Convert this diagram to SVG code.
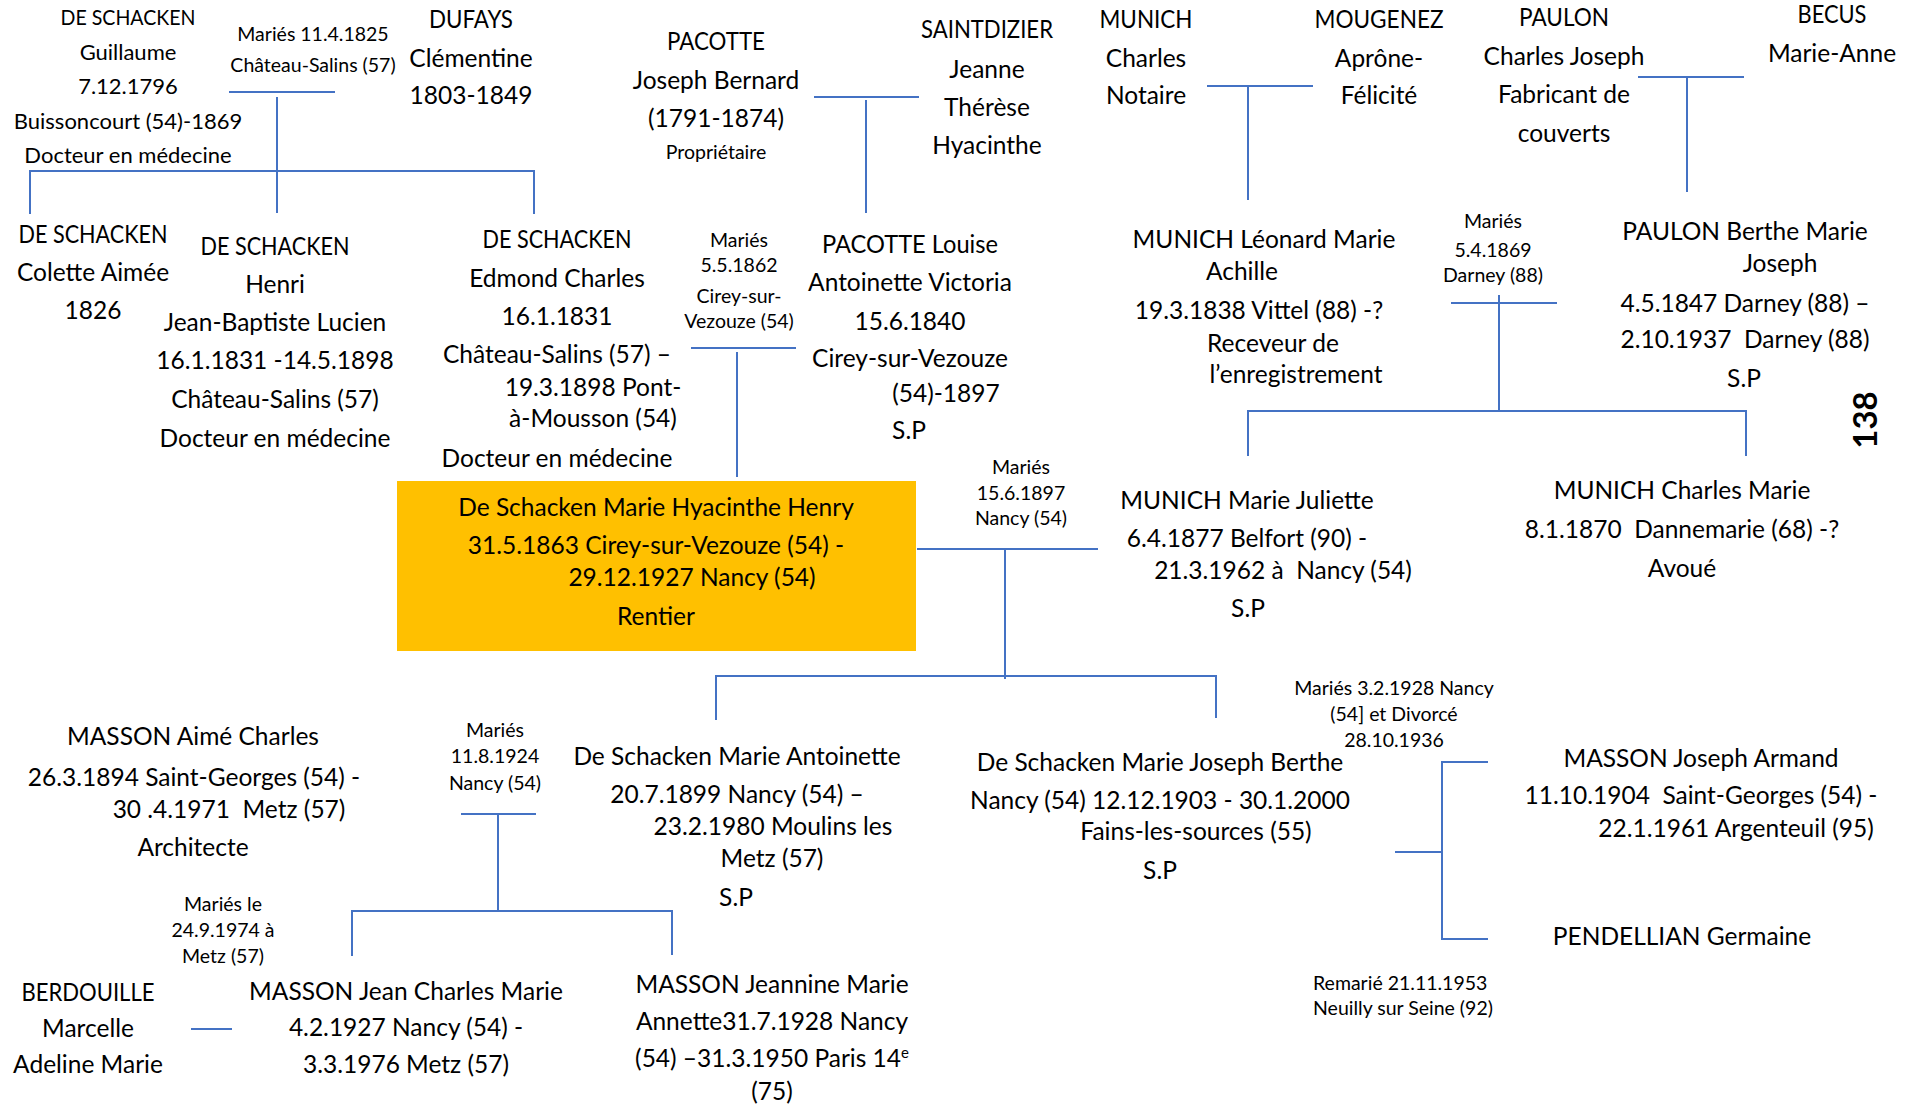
<svg xmlns="http://www.w3.org/2000/svg" width="1919" height="1106" viewBox="0 0 1919 1106">
<style>
text{font-family:Lato,"Liberation Sans",sans-serif;fill:#000;text-anchor:middle}
.m{font-size:24.5px}
.t{font-size:22px}
.s{font-size:19.5px}
.st{text-anchor:start}
.big{font-size:33px;font-weight:bold}
.ln{fill:none;stroke:#4472C4;stroke-width:2}
</style>
<rect x="0" y="0" width="1919" height="1106" fill="#fff"/>
<g id="connectors">
<path class="ln" d="M229,92H335"/>
<path class="ln" d="M277,97V213"/>
<path class="ln" d="M30,214V171H534V214"/>
<path class="ln" d="M814,97H919"/>
<path class="ln" d="M866,100V213"/>
<path class="ln" d="M691,348H796"/>
<path class="ln" d="M737,352V477"/>
<path class="ln" d="M1207,86H1313"/>
<path class="ln" d="M1248,86V200"/>
<path class="ln" d="M1638,77H1744"/>
<path class="ln" d="M1687,77V192"/>
<path class="ln" d="M1451,303H1557"/>
<path class="ln" d="M1499,295V411"/>
<path class="ln" d="M1248,456V411H1746V456"/>
<path class="ln" d="M917,549H1098"/>
<path class="ln" d="M1005,549V679" stroke-width="2.5"/>
<path class="ln" d="M716,720V676H1216V718" stroke-width="2.5"/>
<path class="ln" d="M461,814H536"/>
<path class="ln" d="M498,814V911"/>
<path class="ln" d="M352,956V911H672V955"/>
<path class="ln" d="M191,1029H232"/>
<path class="ln" d="M1395,852H1442"/>
<path class="ln" d="M1488,762H1442V939H1488"/>
</g>
<g id="n_guillaume" class="t">
<text x="128" y="25" textLength="135" lengthAdjust="spacingAndGlyphs">DE SCHACKEN</text>
<text x="128" y="60">Guillaume</text>
<text x="128" y="94">7.12.1796</text>
<text x="128" y="129">Buissoncourt (54)-1869</text>
<text x="128" y="163">Docteur en médecine</text>
</g>
<g id="m1825" class="s">
<text x="313" y="41">Mariés 11.4.1825</text>
<text x="313" y="72">Château-Salins (57)</text>
</g>
<g id="n_dufays" class="m">
<text x="471" y="28" textLength="84" lengthAdjust="spacingAndGlyphs">DUFAYS</text>
<text x="471" y="67">Clémentine</text>
<text x="471" y="104">1803-1849</text>
</g>
<g id="n_colette" class="m">
<text x="93" y="243" textLength="149" lengthAdjust="spacingAndGlyphs">DE SCHACKEN</text>
<text x="93" y="281">Colette Aimée</text>
<text x="93" y="319">1826</text>
</g>
<g id="n_henri" class="m">
<text x="275" y="255" textLength="149" lengthAdjust="spacingAndGlyphs">DE SCHACKEN</text>
<text x="275" y="293">Henri</text>
<text x="275" y="331">Jean-Baptiste Lucien</text>
<text x="275" y="369">16.1.1831 -14.5.1898</text>
<text x="275" y="408">Château-Salins (57)</text>
<text x="275" y="447">Docteur en médecine</text>
</g>
<g id="n_edmond" class="m">
<text x="557" y="248" textLength="149" lengthAdjust="spacingAndGlyphs">DE SCHACKEN</text>
<text x="557" y="287">Edmond Charles</text>
<text x="557" y="325">16.1.1831</text>
<text x="557" y="363">Château-Salins (57) –</text>
<text x="593" y="396">19.3.1898 Pont-</text>
<text x="593" y="427">à-Mousson (54)</text>
<text x="557" y="467">Docteur en médecine</text>
</g>
<g id="n_pacotte_jb">
<text class="m" x="716" y="50" textLength="98" lengthAdjust="spacingAndGlyphs">PACOTTE</text>
<text class="m" x="716" y="89">Joseph Bernard</text>
<text class="m" x="716" y="127">(1791-1874)</text>
<text class="s" x="716" y="159">Propriétaire</text>
</g>
<g id="n_saintdizier" class="m">
<text x="987" y="38" textLength="132" lengthAdjust="spacingAndGlyphs">SAINTDIZIER</text>
<text x="987" y="78">Jeanne</text>
<text x="987" y="116">Thérèse</text>
<text x="987" y="154">Hyacinthe</text>
</g>
<g id="m1862" class="s">
<text x="739" y="247">Mariés</text>
<text x="739" y="272">5.5.1862</text>
<text x="739" y="303">Cirey-sur-</text>
<text x="739" y="328">Vezouze (54)</text>
</g>
<g id="n_louise" class="m">
<text x="910" y="253" textLength="176" lengthAdjust="spacingAndGlyphs">PACOTTE Louise</text>
<text x="910" y="291">Antoinette Victoria</text>
<text x="910" y="330">15.6.1840</text>
<text x="910" y="367">Cirey-sur-Vezouze</text>
<text x="946" y="402">(54)-1897</text>
<text x="909" y="439">S.P</text>
</g>
<g id="n_munich_charles" class="m">
<text x="1146" y="28" textLength="93" lengthAdjust="spacingAndGlyphs">MUNICH</text>
<text x="1146" y="67">Charles</text>
<text x="1146" y="104">Notaire</text>
</g>
<g id="n_mougenez" class="m">
<text x="1379" y="28" textLength="129" lengthAdjust="spacingAndGlyphs">MOUGENEZ</text>
<text x="1379" y="67">Aprône-</text>
<text x="1379" y="104">Félicité</text>
</g>
<g id="n_leonard" class="m">
<text x="1264" y="248">MUNICH Léonard Marie</text>
<text x="1242" y="280">Achille</text>
<text x="1259" y="319">19.3.1838 Vittel (88) -?</text>
<text x="1273" y="352">Receveur de</text>
<text x="1296" y="383">l’enregistrement</text>
</g>
<g id="n_paulon_cj" class="m">
<text x="1564" y="26" textLength="90" lengthAdjust="spacingAndGlyphs">PAULON</text>
<text x="1564" y="65">Charles Joseph</text>
<text x="1564" y="103">Fabricant de</text>
<text x="1564" y="142">couverts</text>
</g>
<g id="n_becus" class="m">
<text x="1832" y="23" textLength="69" lengthAdjust="spacingAndGlyphs">BECUS</text>
<text x="1832" y="62">Marie-Anne</text>
</g>
<g id="m1869" class="s">
<text x="1493" y="228">Mariés</text>
<text x="1493" y="257">5.4.1869</text>
<text x="1493" y="282">Darney (88)</text>
</g>
<g id="n_paulon_berthe" class="m">
<text x="1745" y="240">PAULON Berthe Marie</text>
<text x="1780" y="272">Joseph</text>
<text x="1745" y="312">4.5.1847 Darney (88) –</text>
<text x="1745" y="348" xml:space="preserve">2.10.1937  Darney (88)</text>
<text x="1744" y="387">S.P</text>
</g>
<g id="page_number">
<text class="big" transform="translate(1877,420) rotate(-90)">138</text>
</g>
<g id="m1897" class="s">
<text x="1021" y="474">Mariés</text>
<text x="1021" y="500">15.6.1897</text>
<text x="1021" y="525">Nancy (54)</text>
</g>
<g id="n_henry">
<rect x="397" y="481" width="519" height="170" fill="#FFC000"/>
<text class="m" x="656" y="516">De Schacken Marie Hyacinthe Henry</text>
<text class="m" x="656" y="554">31.5.1863 Cirey-sur-Vezouze (54) -</text>
<text class="m" x="692" y="586">29.12.1927 Nancy (54)</text>
<text class="m" x="656" y="625">Rentier</text>
</g>
<g id="n_juliette" class="m">
<text x="1247" y="509">MUNICH Marie Juliette</text>
<text x="1247" y="547">6.4.1877 Belfort (90) -</text>
<text x="1283" y="579" xml:space="preserve">21.3.1962 à  Nancy (54)</text>
<text x="1248" y="617">S.P</text>
</g>
<g id="n_charles_marie" class="m">
<text x="1682" y="499">MUNICH Charles Marie</text>
<text x="1682" y="538" xml:space="preserve">8.1.1870  Dannemarie (68) -?</text>
<text x="1682" y="577">Avoué</text>
</g>
<g id="n_aime" class="m">
<text x="193" y="745">MASSON Aimé Charles</text>
<text x="194" y="786">26.3.1894 Saint-Georges (54) -</text>
<text x="229" y="818" xml:space="preserve">30 .4.1971  Metz (57)</text>
<text x="193" y="856">Architecte</text>
</g>
<g id="m1924" class="s">
<text x="495" y="737">Mariés</text>
<text x="495" y="763">11.8.1924</text>
<text x="495" y="790">Nancy (54)</text>
</g>
<g id="n_antoinette" class="m">
<text x="737" y="765">De Schacken Marie Antoinette</text>
<text x="737" y="803">20.7.1899 Nancy (54) –</text>
<text x="773" y="835">23.2.1980 Moulins les</text>
<text x="772" y="867">Metz (57)</text>
<text x="736" y="906">S.P</text>
</g>
<g id="n_berthe" class="m">
<text x="1160" y="771">De Schacken Marie Joseph Berthe</text>
<text x="1160" y="809">Nancy (54) 12.12.1903 - 30.1.2000</text>
<text x="1196" y="840">Fains-les-sources (55)</text>
<text x="1160" y="879">S.P</text>
</g>
<g id="m1928" class="s">
<text x="1394" y="695">Mariés 3.2.1928 Nancy</text>
<text x="1394" y="721">(54] et Divorcé</text>
<text x="1394" y="747">28.10.1936</text>
</g>
<g id="n_joseph_armand" class="m">
<text x="1701" y="767">MASSON Joseph Armand</text>
<text x="1701" y="804" xml:space="preserve">11.10.1904  Saint-Georges (54) -</text>
<text x="1736" y="837">22.1.1961 Argenteuil (95)</text>
</g>
<g id="n_pendellian" class="m">
<text x="1682" y="945">PENDELLIAN Germaine</text>
</g>
<g id="m1953" class="s">
<text class="st" x="1313" y="990">Remarié 21.11.1953</text>
<text class="st" x="1313" y="1015">Neuilly sur Seine (92)</text>
</g>
<g id="m1974" class="s">
<text x="223" y="911">Mariés le</text>
<text x="223" y="937">24.9.1974 à</text>
<text x="223" y="963">Metz (57)</text>
</g>
<g id="n_berdouille" class="m">
<text x="88" y="1001" textLength="133" lengthAdjust="spacingAndGlyphs">BERDOUILLE</text>
<text x="88" y="1037">Marcelle</text>
<text x="88" y="1073">Adeline Marie</text>
</g>
<g id="n_jean_charles" class="m">
<text x="406" y="1000">MASSON Jean Charles Marie</text>
<text x="406" y="1036">4.2.1927 Nancy (54) -</text>
<text x="406" y="1073">3.3.1976 Metz (57)</text>
</g>
<g id="n_jeannine" class="m">
<text x="772" y="993">MASSON Jeannine Marie</text>
<text x="772" y="1030">Annette31.7.1928 Nancy</text>
<text x="772" y="1067">(54) –31.3.1950 Paris 14<tspan font-size="15" dy="-9">e</tspan></text>
<text x="772" y="1100">(75)</text>
</g>
</svg>
